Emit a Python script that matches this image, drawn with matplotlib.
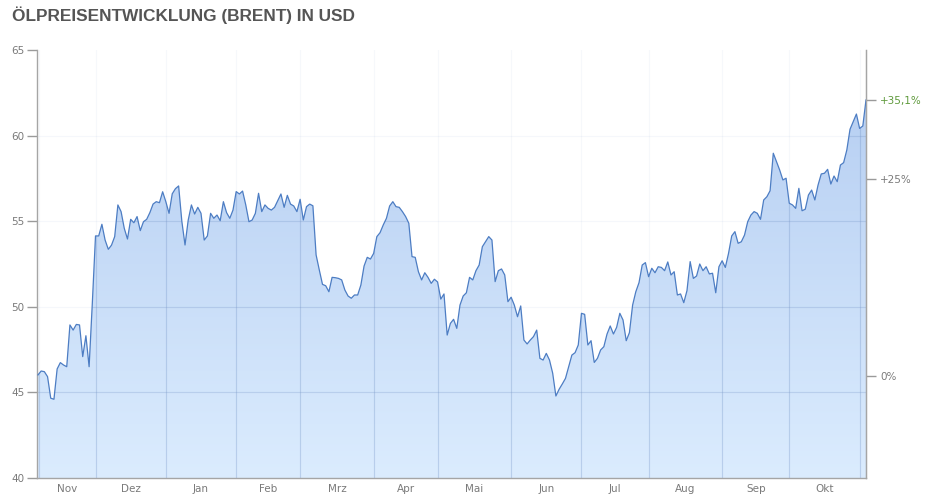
import numpy as np
import pandas as pd
import matplotlib
matplotlib.use("Agg")
import matplotlib.pyplot as plt
from matplotlib.colors import LinearSegmentedColormap
from matplotlib.patches import PathPatch

# ---- data (Brent, USD, one value per weekday) ----
start_date = "2016-11-07"
prices = [
    46.02, 46.25, 46.21, 45.92, 44.66, 44.60, 46.37, 46.74, 46.60, 46.50,
    48.94, 48.64, 48.97, 48.94, 47.09, 48.31, 46.50, 50.20, 54.14, 54.14,
    54.82, 53.90, 53.36, 53.60, 54.10, 55.95, 55.56, 54.58, 53.96, 55.11,
    54.91, 55.27, 54.45, 54.97, 55.11, 55.50, 56.00, 56.14, 56.08, 56.72,
    56.14, 55.46, 56.60, 56.90, 57.06, 55.00, 53.61, 55.07, 55.95, 55.42,
    55.81, 55.46, 53.90, 54.14, 55.46, 55.17, 55.36, 55.03, 56.14, 55.50,
    55.17, 55.65, 56.73, 56.59, 56.76, 55.95, 54.97, 55.07, 55.46, 56.63,
    55.56, 55.95, 55.75, 55.65, 55.81, 56.20, 56.59, 55.81, 56.51, 56.00,
    55.89, 55.56, 56.28, 55.07, 55.85, 56.00, 55.90, 53.03, 52.15, 51.31,
    51.23, 50.88, 51.72, 51.70, 51.66, 51.57, 50.98, 50.63, 50.50, 50.69,
    50.69, 51.27, 52.38, 52.89, 52.79, 53.12, 54.10, 54.33, 54.78, 55.17,
    55.89, 56.14, 55.85, 55.81, 55.56, 55.27, 54.88, 52.93, 52.89, 52.05,
    51.57, 51.99, 51.72, 51.37, 51.61, 51.45, 50.45, 50.75, 48.35, 49.03,
    49.27, 48.74, 50.10, 50.63, 50.82, 51.72, 51.57, 52.11, 52.44, 53.51,
    53.80, 54.10, 53.90, 51.47, 52.11, 52.21, 51.86, 50.30, 50.56, 50.10,
    49.42, 50.05, 48.06, 47.83, 48.06, 48.26, 48.64, 46.99, 46.89, 47.28,
    46.89, 46.12, 44.79, 45.18, 45.49, 45.82, 46.50, 47.18, 47.32, 47.77,
    49.62, 49.56, 47.77, 48.02, 46.75, 46.99, 47.48, 47.67, 48.41, 48.88,
    48.41, 48.80, 49.62, 49.23, 48.02, 48.49, 50.10, 50.88, 51.41, 52.44,
    52.58, 51.76, 52.25, 51.99, 52.34, 52.30, 52.11, 52.62, 51.86, 52.05,
    50.69, 50.75, 50.24, 50.94, 52.64, 51.66, 51.80, 52.50, 52.11, 52.34,
    51.92, 51.96, 50.82, 52.34, 52.69, 52.30, 53.12, 54.14, 54.39, 53.71,
    53.80, 54.19, 54.97, 55.36, 55.56, 55.46, 55.11, 56.24, 56.43, 56.78,
    58.97, 58.48, 57.99, 57.41, 57.51, 56.05, 55.95, 55.75, 56.92, 55.61,
    55.70, 56.53, 56.82, 56.24, 57.11, 57.76, 57.80, 58.03, 57.17, 57.64,
    57.31, 58.28, 58.42, 59.16, 60.37, 60.81, 61.26, 60.42, 60.56, 62.08,
]
month_labels = ["Nov", "Dez", "Jan", "Feb", "Mrz", "Apr", "Mai",
                "Jun", "Jul", "Aug", "Sep", "Okt"]
y_ticks = [40, 45, 50, 55, 60, 65]
base_price = 45.95          # reference level for the % scale
pct_ticks = [0, 25]
title = "ÖLPREISENTWICKLUNG (BRENT) IN USD"

# ---- figure ----
W, H = 941, 503
fig = plt.figure(figsize=(W / 100, H / 100), dpi=100)
ax = fig.add_axes([37 / W, 1 - 478 / H, (866 - 37) / W, (478 - 50) / H])

n = len(prices)
x = np.arange(n)
dates = pd.bdate_range(start_date, periods=n)
xmin, xmax = -0.3, n - 1
ymin, ymax = 40, 65
ax.set_xlim(xmin, xmax)
ax.set_ylim(ymin, ymax)

# gradient fill under the curve
poly = ax.fill_between(x, prices, ymin, facecolor="none", edgecolor="none")
path = poly.get_paths()[0]
clip = PathPatch(path, transform=ax.transData, facecolor="none", edgecolor="none")
ax.add_patch(clip)
cmap = LinearSegmentedColormap.from_list("g", ["#dbecfe", "#b3ccf1"])
grad = np.linspace(0, 1, 256).reshape(-1, 1)
im = ax.imshow(grad, extent=[xmin, xmax, ymin, ymax], origin="lower",
               aspect="auto", cmap=cmap, zorder=1, interpolation="bicubic")
im.set_clip_path(clip)

ax.plot(x, prices, color="#4d7dc3", lw=0.9, zorder=3, solid_joinstyle="round")

# month boundaries
month_id = dates.year * 12 + dates.month
starts = [0] + [i for i in range(1, n) if month_id[i] != month_id[i - 1]]
bounds = [0.4] + starts[1:]
grid_c = (0.45, 0.58, 0.78)
for b in bounds:
    ax.axvline(b, color=grid_c, alpha=0.06, lw=0.8, zorder=2)
    g = ax.axvline(b, color=grid_c, alpha=0.28, lw=0.8, zorder=2)
    g.set_clip_path(clip)
for yv in y_ticks[1:-1]:
    ax.axhline(yv, color=grid_c, alpha=0.07, lw=0.8, zorder=2)
    g = ax.axhline(yv, color=grid_c, alpha=0.22, lw=0.8, zorder=2)
    g.set_clip_path(clip)

edges = starts + [n - 1]
centers = [(edges[k] + edges[k + 1]) / 2 for k in range(len(month_labels))]
ax.set_xticks(centers)
ax.set_xticklabels(month_labels)
ax.tick_params(axis="x", length=0, pad=4, labelsize=7.5, labelcolor="#7a7a7a")

ax.set_yticks(y_ticks)
ax.set_yticklabels([str(v) for v in y_ticks])
ax.tick_params(axis="y", length=7, width=1, color="#9a9a9a", pad=2,
               labelsize=7.5, labelcolor="#7a7a7a")

for s in ["top"]:
    ax.spines[s].set_visible(False)
for s in ["left", "bottom", "right"]:
    ax.spines[s].set_color("#a5a5a5")
    ax.spines[s].set_linewidth(1)

# right % axis
ax2 = ax.twinx()
ax2.set_ylim(ymin, ymax)
last = prices[-1]
last_pct = (last / base_price - 1) * 100
r_ticks = [base_price * (1 + p / 100) for p in pct_ticks] + [last]
r_labels = ["0%"] + ["+%d%%" % p for p in pct_ticks[1:]] + \
           ["+" + ("%.1f" % last_pct).replace(".", ",") + "%"]
ax2.set_yticks(r_ticks)
ax2.set_yticklabels(r_labels)
ax2.tick_params(axis="y", length=7, width=1, color="#9a9a9a", pad=3,
                labelsize=7.5, labelcolor="#7a7a7a")
ax2.get_yticklabels()[-1].set_color("#5f9a3c")
for s in ["top", "left", "bottom"]:
    ax2.spines[s].set_visible(False)
ax2.spines["right"].set_color("#a5a5a5")

fig.text(12 / W, 1 - 15.5 / H, title, ha="left", va="center",
         fontsize=12.4, fontweight="bold", family="Liberation Sans", color="#555555")

fig.savefig("out.png", dpi=100)
